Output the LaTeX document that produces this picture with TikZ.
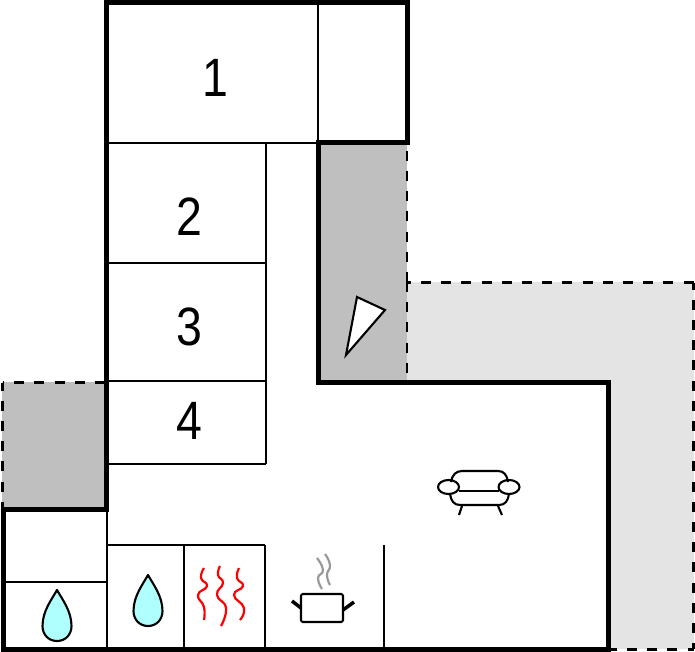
\documentclass[tikz,border=0pt]{standalone}
\usepackage{fontspec}
\setmainfont{Liberation Sans}
\definecolor{darkarea}{HTML}{BFBFBF}
\definecolor{lightarea}{HTML}{E4E4E4}
\definecolor{dropblue}{HTML}{B0FFFF}
\tikzset{
	wall/.style={line width=5pt,line join=miter},
	partition/.style={line width=2.2pt},
	border/.style={line width=2.6pt,dash pattern=on 10pt off 10.2pt},
	icon/.style={line width=2.1pt,line join=round},
	heat/.style={red,line width=2.2pt,smooth,tension=.9},
	steam/.style={gray!80,line width=2.2pt,smooth,tension=.9},
	roomnum/.style={inner sep=0pt,xscale=.86,transform shape,font=\fontsize{54}{54}\selectfont}
}
\newcommand{\waterdrop}[2]{
	\draw[icon,fill=dropblue] (#1,#2) .. controls (#1+5,#2+9) and (#1+14.5,#2+21) .. (#1+14.5,#2+36)
		.. controls (#1+14.5,#2+45) and (#1+8,#2+51) .. (#1,#2+51)
		.. controls (#1-8,#2+51) and (#1-14.5,#2+45) .. (#1-14.5,#2+36)
		.. controls (#1-14.5,#2+21) and (#1-5,#2+9) .. (#1,#2)--cycle;
}
\begin{document}
\begin{tikzpicture}[x=1pt,y=-1pt]
\useasboundingbox (0,0) rectangle (695,652);

% outside areas
\fill[lightarea] (407,282)--(694,282)--(694,649)--(608,649)--(608,382)--(407,382)--cycle;
\fill[darkarea] (318,143) rectangle (407,382);
\fill[darkarea] (2,382) rectangle (106,509);
\draw[border] (407,282)--(407,143);
\draw[border] (407,282)--(407,382);
\draw[border] (693.5,282.5)--(407,282.5);
\draw[border,dash phase=3] (693.5,282.5)--(693.5,649);
\draw[border,dash phase=4] (693.5,649.5)--(608,649.5);
\draw[border] (105,382.5)--(2.5,382.5);
\draw[border,dash phase=2] (2.5,382.5)--(2.5,509);

% partitions
\draw[partition] (318,3)--(318,143);
\draw[partition] (106,143)--(318,143);
\draw[partition] (266,143)--(266,464);
\foreach \y in {263,381,464}
{
	\draw[partition] (106,\y)--(266,\y);
}
\draw[partition] (107,509)--(107,649);
\draw[partition] (3,582)--(107,582);
\draw[partition] (107,545)--(265,545);
\foreach \x in {184,265,384}
{
	\draw[partition] (\x,545)--(\x,649);
}

\draw[wall] (106,3)--(407,3)--(407,143)--(318,143)--(318,382)--(608,382)--(608,649)--(3,649)--(3,509)--(106,509)--cycle;

\node[roomnum] (one) at (215,78){1};
\node[roomnum] (two) at (189,216.5){2};
\node[roomnum] (three) at (189,326.5){3};
\node[roomnum] (four) at (189,420.5){4};

% view cone
\draw[icon,fill=white,line join=miter] (357,297)--(385,310)--(346,355)--cycle;

\waterdrop{57}{590}
\waterdrop{148}{575}

\draw[heat] plot coordinates {(204,568) (201,578) (207,586) (198,595) (204,607) (204,620)};
\draw[heat] plot coordinates {(220,566) (218,575) (223,583) (217,595) (226,608) (221,626)};
\draw[heat] plot coordinates {(239,568) (237,578) (243,586) (234,595) (244,608) (240,620)};

% pot
\draw[steam] plot coordinates {(317,558) (323,570) (318,578) (322,589)};
\draw[steam] plot coordinates {(325,554) (330,565) (327,575) (330,585)};
\draw[icon,rounded corners=1.5pt] (301,594)--(301,622)--(343,622)--(343,594)--cycle;
\draw[line width=3.5pt] (292,601)--(301,608);
\draw[line width=3.5pt] (354,602)--(343,610);

% sofa
\draw[icon] (451,482) .. controls (452,475) and (456,471) .. (462,471)--(498,471) .. controls (504,471) and (507,475) .. (508,482);
\draw[icon] (450,494) .. controls (451,501) and (454,505) .. (460,505)--(499,505) .. controls (505,505) and (508,501) .. (509,494);
\draw[icon] (459,491)--(499,491);
\draw[icon] (448.5,487) ellipse [x radius=10.5,y radius=7];
\draw[icon] (509,487) ellipse [x radius=10.5,y radius=7];
\draw[icon] (462,506)--(459,515);
\draw[icon] (498,506)--(502,515);

\end{tikzpicture}
\end{document}
